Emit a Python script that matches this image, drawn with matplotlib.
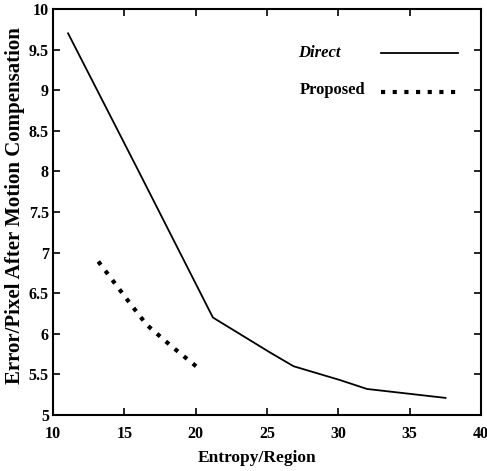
import matplotlib
matplotlib.use("Agg")
import matplotlib.pyplot as plt

# values
direct_x = [11.05, 16.0, 21.2, 25.2, 26.85, 30.1, 32.0, 37.5]
direct_y = [9.70, 8.00, 6.20, 5.77, 5.60, 5.43, 5.32, 5.21]
proposed_x = [13.17, 15.28, 16.56, 18.27, 20.23]
proposed_y = [6.89, 6.40, 6.11, 5.85, 5.57]

x_ticks = [10, 15, 20, 25, 30, 35, 40]
y_ticks = [5, 5.5, 6, 6.5, 7, 7.5, 8, 8.5, 9, 9.5, 10]
y_tick_labels = ['5', '5.5', '6', '6.5', '7', '7.5', '8', '8.5', '9', '9.5', '10']

plt.rcParams['font.family'] = ['Liberation Serif', 'DejaVu Serif']
plt.rcParams['font.weight'] = 'bold'

fig = plt.figure(figsize=(4.87, 4.71), dpi=100)
ax = fig.add_axes([0.109, 0.119, 0.879, 0.862])

l_direct, = ax.plot(direct_x, direct_y, color='black', linewidth=1.3)
l_prop, = ax.plot(proposed_x, proposed_y, color='black', linewidth=3.0,
                  linestyle=(0, (1, 1.8)))

ax.set_xlim(10, 40)
ax.set_ylim(5, 10)
ax.set_xticks(x_ticks)
ax.set_yticks(y_ticks)
ax.set_yticklabels(y_tick_labels)
ax.tick_params(direction='in', top=True, right=True, length=5, width=1.2,
               labelsize=11.5)
ax.tick_params(axis='x', pad=8)
ax.tick_params(axis='y', pad=3)
for lbl in ax.get_xticklabels() + ax.get_yticklabels():
    lbl.set_fontweight('bold')
for sp in ax.spines.values():
    sp.set_linewidth(1.5)

ax.set_xlabel('Entropy/Region', fontsize=12.5, fontweight='bold')
ax.xaxis.set_label_coords(0.477, -0.087)
ax.set_ylabel('Error/Pixel After Motion Compensation', fontsize=15,
              fontweight='bold')
ax.yaxis.set_label_coords(-0.066, 0.515)

# legend: samples on the right, left-aligned texts on the left
leg = ax.legend([l_direct, l_prop], ['', ''], loc='upper right',
                frameon=False, handlelength=5.1, handletextpad=0,
                labelspacing=1.65, fontsize=11, borderpad=0,
                borderaxespad=0, bbox_to_anchor=(0.947, 0.904))
ax.text(0.572, 0.892, 'Direct', transform=ax.transAxes, fontsize=12,
        fontstyle='italic', fontweight='bold', va='center', ha='left')
ax.text(0.577, 0.800, 'Proposed', transform=ax.transAxes, fontsize=12,
        fontweight='bold', va='center', ha='left')

fig.savefig('out.png', dpi=100)
